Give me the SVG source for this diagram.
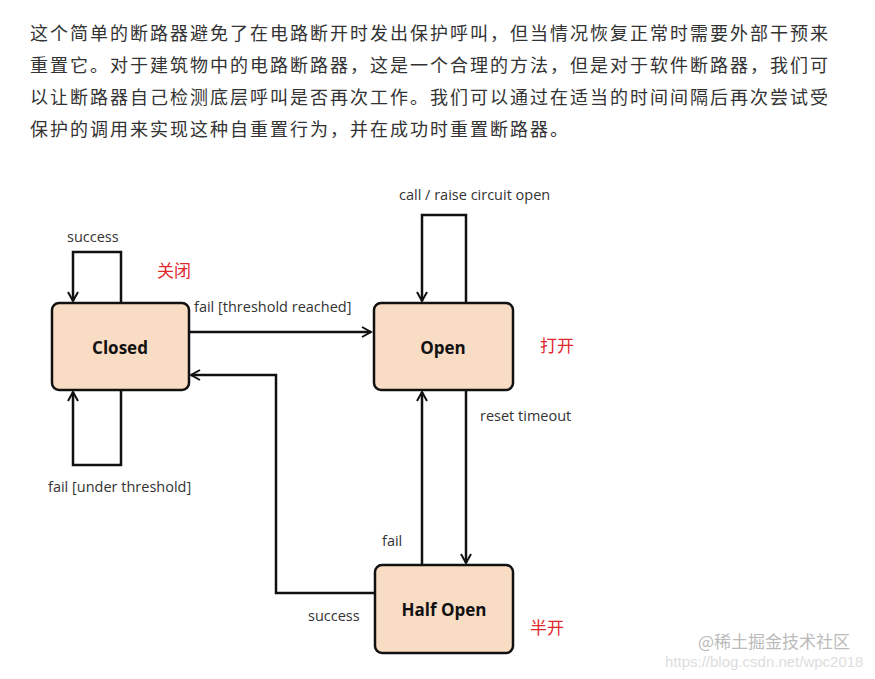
<svg xmlns="http://www.w3.org/2000/svg" width="875" height="679" viewBox="0 0 875 679">
<style>
.p{font-family:"Noto Sans CJK SC",sans-serif;font-size:18px;letter-spacing:2px;fill:#333}
.b{fill:#f9dcc4;stroke:#111;stroke-width:2.5}
.n{font-family:"Open Sans",sans-serif;font-weight:bold;font-size:17px;fill:#111;text-anchor:middle}
.l{font-family:"Open Sans",sans-serif;font-size:14.5px;fill:#333}
.r{font-family:"Noto Sans CJK SC",sans-serif;font-size:17px;fill:#e0282d}
.c{fill:none;stroke:#111;stroke-width:2.5}
</style>
<defs><marker id="a" markerWidth="12" markerHeight="12" refX="10" refY="6" orient="auto" markerUnits="userSpaceOnUse"><path d="M1,1 L10,6 L1,11" fill="none" stroke="#111" stroke-width="2"/></marker></defs>
<rect width="875" height="679" fill="#fff"/>
<text class="p" x="30" y="40">这个简单的断路器避免了在电路断开时发出保护呼叫，但当情况恢复正常时需要外部干预来</text>
<text class="p" x="30" y="72">重置它。对于建筑物中的电路断路器，这是一个合理的方法，但是对于软件断路器，我们可</text>
<text class="p" x="30" y="104">以让断路器自己检测底层呼叫是否再次工作。我们可以通过在适当的时间间隔后再次尝试受</text>
<text class="p" x="30" y="136">保护的调用来实现这种自重置行为，并在成功时重置断路器。</text>
<g id="connectors">
<path class="c" d="M121,303 V252 H73 V301" marker-end="url(#a)"/>
<path class="c" d="M121,390 V465 H73 V392" marker-end="url(#a)"/>
<path class="c" d="M189,332 H371" marker-end="url(#a)"/>
<path class="c" d="M375,593 H276 V375 H191" marker-end="url(#a)"/>
<path class="c" d="M466,303 V215 H422 V301" marker-end="url(#a)"/>
<path class="c" d="M422,565 V392" marker-end="url(#a)"/>
<path class="c" d="M466,390 V563" marker-end="url(#a)"/>
<text class="l" x="67" y="242">success</text>
<text class="l" x="194" y="312">fail [threshold reached]</text>
<text class="l" x="399" y="200">call / raise circuit open</text>
<text class="l" x="48" y="492">fail [under threshold]</text>
<text class="l" x="480" y="421">reset timeout</text>
<text class="l" x="382" y="546">fail</text>
<text class="l" x="308" y="621">success</text>
</g>
<g id="closed"><rect class="b" x="52" y="303" width="137" height="87" rx="7"/><text class="n" x="120" y="354">Closed</text></g>
<g id="open"><rect class="b" x="374" y="303" width="139" height="87" rx="7"/><text class="n" x="443" y="354">Open</text></g>
<g id="halfopen"><rect class="b" x="375" y="565" width="138" height="88" rx="7"/><text class="n" x="444" y="616">Half Open</text></g>
<text class="r" x="157" y="277">关闭</text>
<text class="r" x="540" y="352">打开</text>
<text class="r" x="530" y="634">半开</text>
<text x="698" y="648" style="font-family:'Noto Sans CJK SC',sans-serif;font-size:17px;fill:#bbb">@稀土掘金技术社区</text>
<text x="665" y="667" style="font-family:'Liberation Sans',sans-serif;font-size:15px;fill:#ddd">https://blog.csdn.net/wpc2018</text>
</svg>
